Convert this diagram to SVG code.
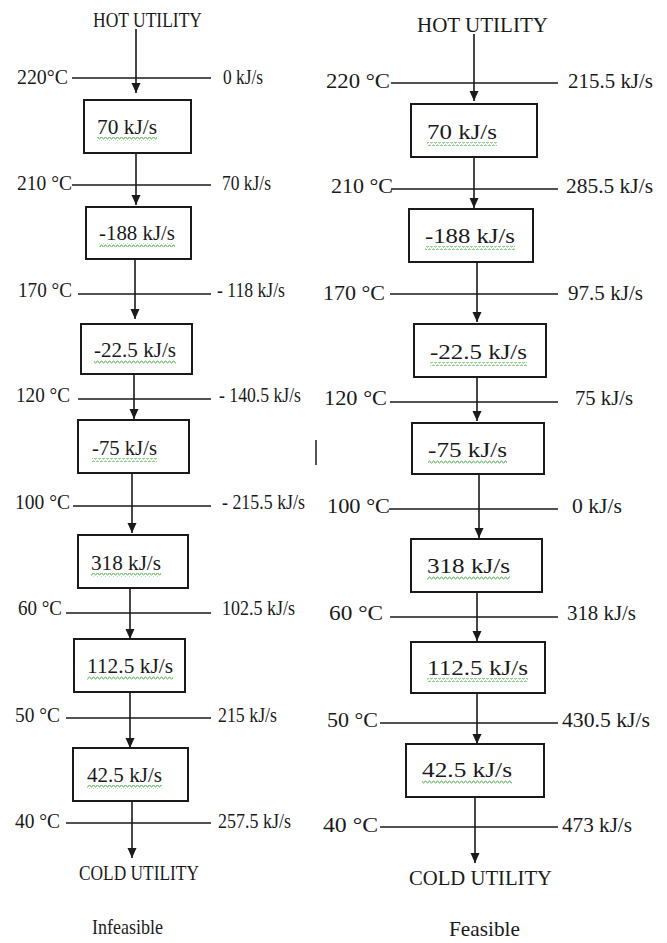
<svg xmlns="http://www.w3.org/2000/svg" width="667" height="943" viewBox="0 0 667 943">
<style>
text{font-family:"Liberation Serif","Times New Roman",serif;font-size:21px;fill:#1a1a1a}
.box{fill:#fff;stroke:#1a1a1a;stroke-width:2}
.lvl{stroke:#1a1a1a;stroke-width:1.6}
.arr{stroke:#1a1a1a;stroke-width:1.6;fill:none;marker-end:url(#ah)}
.wv{fill:url(#wave)}
</style>
<defs>
<marker id="ah" markerUnits="userSpaceOnUse" markerWidth="10" markerHeight="10" refX="10" refY="4.5" orient="auto">
<path d="M0,0 L10,4.5 L0,9 z" fill="#1a1a1a"/>
</marker>
<pattern id="wave" patternUnits="userSpaceOnUse" width="4" height="4">
<path d="M0,3 L1,1 L2,1 L3,3 L4,3" fill="none" stroke="#5cb85c" stroke-width="0.9"/>
</pattern>
</defs>

<!-- LEFT: Infeasible -->
<g id="left-hot"><text x="93" y="27" textLength="109" lengthAdjust="spacingAndGlyphs">HOT UTILITY</text></g>
<g id="left-box1"><rect class="box" x="84" y="100" width="107" height="53"/><text x="97" y="134" textLength="60" lengthAdjust="spacingAndGlyphs">70 kJ/s</text><rect class="wv" x="97" y="137" width="60" height="4"/></g>
<g id="left-box2"><rect class="box" x="86" y="207" width="105" height="52"/><text x="99" y="240" textLength="76" lengthAdjust="spacingAndGlyphs">-188 kJ/s</text><rect class="wv" x="99" y="243" width="76" height="4"/></g>
<g id="left-box3"><rect class="box" x="81" y="324" width="111" height="50"/><text x="94" y="357" textLength="82" lengthAdjust="spacingAndGlyphs">-22.5 kJ/s</text><rect class="wv" x="94" y="360" width="82" height="4"/></g>
<g id="left-box4"><rect class="box" x="78" y="420" width="111" height="53"/><text x="92" y="455" textLength="65" lengthAdjust="spacingAndGlyphs">-75 kJ/s</text><rect class="wv" x="92" y="458" width="65" height="4"/></g>
<g id="left-box5"><rect class="box" x="78" y="535" width="110" height="53"/><text x="91" y="570" textLength="70" lengthAdjust="spacingAndGlyphs">318 kJ/s</text><rect class="wv" x="91" y="573" width="70" height="4"/></g>
<g id="left-box6"><rect class="box" x="74" y="639" width="111" height="53"/><text x="87" y="673" textLength="86" lengthAdjust="spacingAndGlyphs">112.5 kJ/s</text><rect class="wv" x="87" y="676" width="86" height="4"/></g>
<g id="left-box7"><rect class="box" x="73" y="748" width="115" height="53"/><text x="87" y="782" textLength="75" lengthAdjust="spacingAndGlyphs">42.5 kJ/s</text><rect class="wv" x="87" y="785" width="75" height="4"/></g>
<g id="left-cold"><text x="79" y="880" textLength="120" lengthAdjust="spacingAndGlyphs">COLD UTILITY</text></g>
<g id="left-caption"><text x="92" y="934" font-size="19" textLength="71" lengthAdjust="spacingAndGlyphs">Infeasible</text></g>

<g id="left-levels">
<line class="lvl" x1="72" y1="78" x2="211" y2="78"/>
<text x="17" y="84" textLength="51" lengthAdjust="spacingAndGlyphs">220°C</text>
<text x="223" y="84" textLength="40" lengthAdjust="spacingAndGlyphs">0 kJ/s</text>
<line class="lvl" x1="72" y1="185" x2="211" y2="185"/>
<text x="17" y="190" textLength="55" lengthAdjust="spacingAndGlyphs">210 °C</text>
<text x="222" y="190" textLength="49" lengthAdjust="spacingAndGlyphs">70 kJ/s</text>
<line class="lvl" x1="78" y1="294" x2="211" y2="294"/>
<text x="18" y="297" textLength="54" lengthAdjust="spacingAndGlyphs">170 °C</text>
<text x="217" y="297" textLength="68" lengthAdjust="spacingAndGlyphs">- 118 kJ/s</text>
<line class="lvl" x1="78" y1="399" x2="211" y2="399"/>
<text x="16" y="402" textLength="54" lengthAdjust="spacingAndGlyphs">120 °C</text>
<text x="219" y="402" textLength="82" lengthAdjust="spacingAndGlyphs">- 140.5 kJ/s</text>
<line class="lvl" x1="73" y1="506" x2="211" y2="506"/>
<text x="15" y="509" textLength="55" lengthAdjust="spacingAndGlyphs">100 °C</text>
<text x="222" y="509" textLength="83" lengthAdjust="spacingAndGlyphs">- 215.5 kJ/s</text>
<line class="lvl" x1="66" y1="613" x2="211" y2="613"/>
<text x="18" y="615" textLength="44" lengthAdjust="spacingAndGlyphs">60 °C</text>
<text x="222" y="615" textLength="73" lengthAdjust="spacingAndGlyphs">102.5 kJ/s</text>
<line class="lvl" x1="66" y1="718" x2="211" y2="718"/>
<text x="15" y="722" textLength="45" lengthAdjust="spacingAndGlyphs">50 °C</text>
<text x="218" y="722" textLength="59" lengthAdjust="spacingAndGlyphs">215 kJ/s</text>
<line class="lvl" x1="66" y1="823" x2="211" y2="823"/>
<text x="15" y="828" textLength="45" lengthAdjust="spacingAndGlyphs">40 °C</text>
<text x="218" y="828" textLength="73" lengthAdjust="spacingAndGlyphs">257.5 kJ/s</text>
</g>

<!-- RIGHT: Feasible -->
<g id="right-hot"><text x="417" y="32" textLength="131" lengthAdjust="spacingAndGlyphs">HOT UTILITY</text></g>
<g id="right-box1"><rect class="box" x="411" y="104" width="126" height="53"/><text x="427" y="139" textLength="70" lengthAdjust="spacingAndGlyphs">70 kJ/s</text><rect class="wv" x="427" y="142" width="70" height="4"/></g>
<g id="right-box2"><rect class="box" x="409" y="209" width="124" height="53"/><text x="425" y="243" textLength="90" lengthAdjust="spacingAndGlyphs">-188 kJ/s</text><rect class="wv" x="425" y="246" width="90" height="4"/></g>
<g id="right-box3"><rect class="box" x="414" y="324" width="132" height="53"/><text x="430" y="359" textLength="97" lengthAdjust="spacingAndGlyphs">-22.5 kJ/s</text><rect class="wv" x="430" y="362" width="97" height="4"/></g>
<g id="right-box4"><rect class="box" x="412" y="423" width="132" height="51"/><text x="428" y="457" textLength="79" lengthAdjust="spacingAndGlyphs">-75 kJ/s</text><rect class="wv" x="428" y="460" width="79" height="4"/></g>
<g id="right-box5"><rect class="box" x="411" y="539" width="131" height="53"/><text x="427" y="573" textLength="83" lengthAdjust="spacingAndGlyphs">318 kJ/s</text><rect class="wv" x="427" y="576" width="83" height="4"/></g>
<g id="right-box6"><rect class="box" x="411" y="642" width="134" height="51"/><text x="427" y="675" textLength="101" lengthAdjust="spacingAndGlyphs">112.5 kJ/s</text><rect class="wv" x="427" y="678" width="101" height="4"/></g>
<g id="right-box7"><rect class="box" x="406" y="744" width="138" height="53"/><text x="422" y="777" textLength="90" lengthAdjust="spacingAndGlyphs">42.5 kJ/s</text><rect class="wv" x="422" y="780" width="90" height="4"/></g>
<g id="right-cold"><text x="409" y="885" textLength="143" lengthAdjust="spacingAndGlyphs">COLD UTILITY</text></g>
<g id="right-caption"><text x="449" y="936" font-size="19" textLength="71" lengthAdjust="spacingAndGlyphs">Feasible</text></g>

<g id="right-levels">
<line class="lvl" x1="391" y1="83" x2="558" y2="83"/>
<text x="326" y="88" textLength="64" lengthAdjust="spacingAndGlyphs">220 °C</text>
<text x="568" y="88" textLength="85" lengthAdjust="spacingAndGlyphs">215.5 kJ/s</text>
<line class="lvl" x1="391" y1="189" x2="558" y2="189"/>
<text x="331" y="193" textLength="62" lengthAdjust="spacingAndGlyphs">210 °C</text>
<text x="566" y="193" textLength="87" lengthAdjust="spacingAndGlyphs">285.5 kJ/s</text>
<line class="lvl" x1="390" y1="294" x2="558" y2="294"/>
<text x="323" y="300" textLength="62" lengthAdjust="spacingAndGlyphs">170 °C</text>
<text x="568" y="300" textLength="75" lengthAdjust="spacingAndGlyphs">97.5 kJ/s</text>
<line class="lvl" x1="390" y1="402" x2="558" y2="402"/>
<text x="324" y="405" textLength="63" lengthAdjust="spacingAndGlyphs">120 °C</text>
<text x="575" y="405" textLength="58" lengthAdjust="spacingAndGlyphs">75 kJ/s</text>
<line class="lvl" x1="389" y1="509" x2="558" y2="509"/>
<text x="327" y="513" textLength="63" lengthAdjust="spacingAndGlyphs">100 °C</text>
<text x="572" y="513" textLength="50" lengthAdjust="spacingAndGlyphs">0 kJ/s</text>
<line class="lvl" x1="390" y1="617" x2="558" y2="617"/>
<text x="329" y="620" textLength="54" lengthAdjust="spacingAndGlyphs">60 °C</text>
<text x="567" y="620" textLength="69" lengthAdjust="spacingAndGlyphs">318 kJ/s</text>
<line class="lvl" x1="380" y1="723" x2="558" y2="723"/>
<text x="327" y="727" textLength="51" lengthAdjust="spacingAndGlyphs">50 °C</text>
<text x="562" y="727" textLength="88" lengthAdjust="spacingAndGlyphs">430.5 kJ/s</text>
<line class="lvl" x1="380" y1="827" x2="558" y2="827"/>
<text x="323" y="832" textLength="55" lengthAdjust="spacingAndGlyphs">40 °C</text>
<text x="562" y="832" textLength="70" lengthAdjust="spacingAndGlyphs">473 kJ/s</text>
</g>

<g id="connectors">
<line class="arr" x1="136" y1="29" x2="136" y2="93"/>
<line class="arr" x1="136" y1="153" x2="136" y2="205"/>
<line class="arr" x1="135" y1="259" x2="135" y2="319"/>
<line class="arr" x1="134" y1="374" x2="134" y2="419"/>
<line class="arr" x1="132" y1="473" x2="132" y2="533"/>
<line class="arr" x1="130" y1="588" x2="130" y2="639"/>
<line class="arr" x1="130" y1="692" x2="130" y2="748"/>
<line class="arr" x1="132" y1="801" x2="132" y2="858"/>
<line class="arr" x1="474" y1="34" x2="474" y2="101"/>
<line class="arr" x1="474" y1="157" x2="474" y2="208"/>
<line class="arr" x1="477" y1="262" x2="477" y2="322"/>
<line class="arr" x1="477" y1="377" x2="477" y2="421"/>
<line class="arr" x1="479" y1="474" x2="479" y2="538"/>
<line class="arr" x1="477" y1="592" x2="477" y2="641"/>
<line class="arr" x1="477" y1="693" x2="477" y2="744"/>
<line class="arr" x1="475" y1="797" x2="475" y2="863"/>
</g>
<line x1="316" y1="440" x2="316" y2="465" stroke="#1a1a1a" stroke-width="1.5"/>
</svg>
